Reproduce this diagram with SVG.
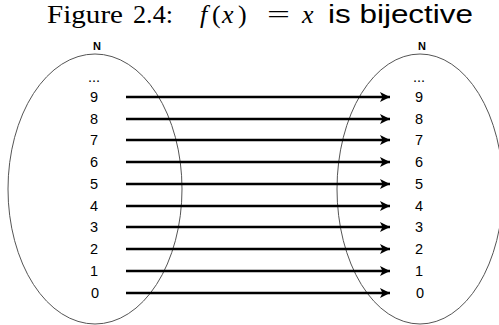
<svg xmlns="http://www.w3.org/2000/svg" width="499" height="325" viewBox="0 0 499 325">
<defs>
<style>
.set{fill:none;stroke:#555;stroke-width:1}
.num{font-family:"Liberation Sans",Arial,sans-serif;font-size:14.5px;fill:#000;text-anchor:middle}
.lab{font-family:"Liberation Sans",Arial,sans-serif;font-size:11px;font-weight:bold;fill:#000;text-anchor:middle}
.arr{stroke:#000;stroke-width:2.5;fill:none;marker-end:url(#ah)}
.ser{font-family:"Liberation Serif","DejaVu Serif",serif;font-size:26px;fill:#000}
.it{font-style:italic}
.sans{font-family:"Liberation Sans",Arial,sans-serif;font-size:26px;fill:#000}
</style>
<marker id="ah" viewBox="0 0 10 10" refX="10" refY="5" markerWidth="4.4" markerHeight="4" orient="auto" markerUnits="strokeWidth">
<path d="M0,0 L10,5 L0,10 L2.5,5 Z" fill="#000"/>
</marker>
</defs>
<rect width="499" height="325" fill="#fff"/>
<g id="title">
<text class="ser" x="47" y="23" textLength="76" lengthAdjust="spacingAndGlyphs">Figure</text>
<text class="ser" x="133" y="23" textLength="40" lengthAdjust="spacingAndGlyphs">2.4:</text>
<text class="ser it" x="200" y="23" font-size="28">f</text>
<text class="ser" x="212" y="23" font-size="28">(</text>
<text class="ser it" x="222" y="23" font-size="28">x</text>
<text class="ser" x="238" y="23" font-size="28">)</text>
<text class="ser" x="267" y="23" textLength="23" lengthAdjust="spacingAndGlyphs">=</text>
<text class="ser it" x="302" y="23" font-size="28">x</text>
<text class="sans" x="328" y="23" textLength="145" lengthAdjust="spacingAndGlyphs">is bijective</text>
</g>
<g id="setA">
<ellipse class="set" cx="95" cy="189" rx="87" ry="135"/>
<text class="lab" x="97" y="50">N</text>
<text class="num" x="94" y="82">...</text>
<text class="num" x="94" y="102">9</text>
<text class="num" x="94" y="124">8</text>
<text class="num" x="94" y="145">7</text>
<text class="num" x="94" y="167">6</text>
<text class="num" x="94" y="189">5</text>
<text class="num" x="94" y="211">4</text>
<text class="num" x="94" y="232">3</text>
<text class="num" x="94" y="254">2</text>
<text class="num" x="94" y="276">1</text>
<text class="num" x="95" y="298">0</text>
</g>
<g id="setB">
<ellipse class="set" cx="420" cy="189" rx="83" ry="135"/>
<text class="lab" x="422" y="50">N</text>
<text class="num" x="419" y="82">...</text>
<text class="num" x="419" y="102">9</text>
<text class="num" x="419" y="124">8</text>
<text class="num" x="419" y="145">7</text>
<text class="num" x="419" y="167">6</text>
<text class="num" x="419" y="189">5</text>
<text class="num" x="419" y="211">4</text>
<text class="num" x="419" y="232">3</text>
<text class="num" x="419" y="254">2</text>
<text class="num" x="419" y="276">1</text>
<text class="num" x="420" y="298">0</text>
</g>
<g id="connectors">
<line class="arr" x1="126" y1="97" x2="390" y2="97"/>
<line class="arr" x1="126" y1="119" x2="390" y2="119"/>
<line class="arr" x1="126" y1="140" x2="390" y2="140"/>
<line class="arr" x1="126" y1="162" x2="390" y2="162"/>
<line class="arr" x1="126" y1="184" x2="390" y2="184"/>
<line class="arr" x1="126" y1="206" x2="390" y2="206"/>
<line class="arr" x1="126" y1="227" x2="390" y2="227"/>
<line class="arr" x1="126" y1="249" x2="390" y2="249"/>
<line class="arr" x1="126" y1="271" x2="390" y2="271"/>
<line class="arr" x1="126" y1="293" x2="390" y2="293"/>
</g>
</svg>
